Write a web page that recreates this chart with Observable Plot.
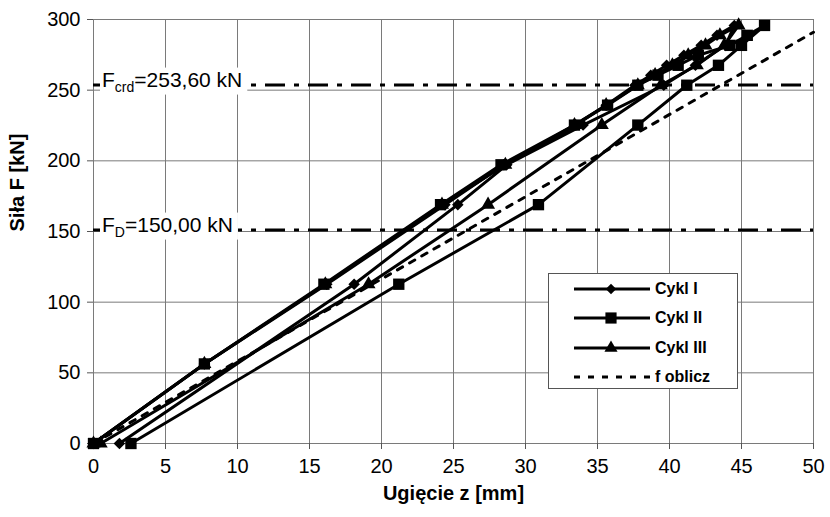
<!DOCTYPE html>
<html>
<head>
<meta charset="utf-8">
<script src="https://cdn.jsdelivr.net/npm/d3@7"></script>
<script src="https://cdn.jsdelivr.net/npm/@observablehq/plot@0.6"></script>
<style>
  html, body { margin: 0; padding: 0; background: #fff; }
  #wrap { position: relative; width: 830px; height: 517px; }
  #legend { position: absolute; left: 548px; top: 273px; width: 190px; height: 116px;
    border: 1px solid #555; background: #fff; box-sizing: border-box;
    font-family: "Liberation Sans", Arial, sans-serif; font-weight: bold; font-size: 16px; }
  .row { position: absolute; left: 23px; height: 20px; display: flex; align-items: center; }
  .row span { margin-left: 3px; }
</style>
</head>
<body>
<div id="wrap"></div>
<script>
// ---- data ----
const xTicks = [0, 5, 10, 15, 20, 25, 30, 35, 40, 45, 50];
const yTicks = [0, 50, 100, 150, 200, 250, 300];

const cyklI_z = [0, 7.7, 16.2, 24.4, 28.5, 33.5, 35.6, 37.6, 38.7, 39.8, 41.0, 42.2, 43.3, 44.5, 43.9, 41.8, 39.6, 34.0, 28.7, 25.3, 18.1, 1.8];
const cyklI_F = [0, 56.3, 112.7, 169, 197.2, 225.3, 239.4, 253.5, 260.6, 267.6, 274.7, 281.7, 288.8, 295.8, 281.7, 267.6, 253.5, 225.3, 197.2, 169, 112.7, 0];

const cyklII_z = [0, 7.7, 16.0, 24.1, 28.3, 33.4, 35.7, 37.8, 39.2, 40.6, 42.0, 44.2, 45.4, 46.6, 45.0, 43.4, 41.2, 37.8, 30.9, 21.2, 2.6];
const cyklII_F = [0, 56.3, 112.7, 169, 197.2, 225.3, 239.4, 253.5, 260.6, 267.6, 274.7, 281.7, 288.8, 295.8, 281.7, 267.6, 253.5, 225.3, 169, 112.7, 0];

const cyklIII_z = [0, 7.7, 16.1, 24.2, 28.6, 33.4, 35.6, 37.8, 39.0, 40.2, 41.3, 42.5, 43.5, 44.8, 43.8, 41.9, 39.4, 35.3, 27.4, 19.1, 0.5];
const cyklIII_F = [0, 56.3, 112.7, 169, 197.2, 225.3, 239.4, 253.5, 260.6, 267.6, 274.7, 281.7, 288.8, 295.8, 281.7, 267.6, 253.5, 225.3, 169, 112.7, 0];

const fCalc_z = [0, 50];
const fCalc_F = [0, 291];

const refValues = [253.6, 151];
const refMain = ["F", "F"];
const refSub = ["crd", "D"];
const refRest = ["=253,60 kN", "=150,00 kN"];

const seriesNames = ["Cykl I", "Cykl II", "Cykl III", "f oblicz"];
const xLabel = "Ugięcie z [mm]";
const yLabel = "Siła F [kN]";

// ---- build tables ----
const toRows = (zs, Fs, s) => zs.map((z, i) => ({z, F: Fs[i], s}));
const rI = toRows(cyklI_z, cyklI_F, seriesNames[0]);
const rII = toRows(cyklII_z, cyklII_F, seriesNames[1]);
const rIII = toRows(cyklIII_z, cyklIII_F, seriesNames[2]);
const rCalc = toRows(fCalc_z, fCalc_F, seriesNames[3]);

const font = "'Liberation Sans', Arial, sans-serif";
const gridStyle = {stroke: "#7a7a7a", strokeOpacity: 1, strokeWidth: 1};

const plot = Plot.plot({
  width: 830, height: 517,
  marginLeft: 93, marginRight: 17, marginTop: 19, marginBottom: 74,
  style: {fontFamily: font, fontSize: "20px", color: "#000", background: "#fff", overflow: "visible"},
  x: {domain: [0, 50]},
  y: {domain: [0, 300]},
  marks: [
    Plot.gridX(xTicks, gridStyle),
    Plot.gridY(yTicks, gridStyle),
    Plot.axisX(xTicks, {tickSize: 6, tickPadding: 9, label: null, stroke: "#555", fontSize: 20}),
    Plot.axisY(yTicks, {tickSize: 6, tickPadding: 7, label: null, stroke: "#555", fontSize: 20}),
    Plot.ruleY(refValues, {stroke: "#000", strokeWidth: 3, strokeDasharray: "20,9,5,9"}),
    Plot.line(rCalc, {x: "z", y: "F", stroke: "#000", strokeWidth: 3, strokeDasharray: "6,8"}),
    Plot.line(rI, {x: "z", y: "F", stroke: "#000", strokeWidth: 3}),
    Plot.line(rIII, {x: "z", y: "F", stroke: "#000", strokeWidth: 3}),
    Plot.line(rII, {x: "z", y: "F", stroke: "#000", strokeWidth: 3}),
    Plot.dot(rI, {x: "z", y: "F", symbol: "diamond2", r: 5.2, fill: "#000", stroke: null}),
    Plot.dot(rIII, {x: "z", y: "F", symbol: "triangle", r: 5.2, fill: "#000", stroke: null}),
    Plot.dot(rII, {x: "z", y: "F", symbol: "square", r: 6.4, fill: "#000", stroke: null}),
    Plot.text([xLabel], {frameAnchor: "bottom", dy: 56, text: d => d, fontWeight: "bold", fontSize: 20, fill: "#000"}),
    Plot.text([yLabel], {frameAnchor: "left", dx: -76, rotate: -90, text: d => d, fontWeight: "bold", fontSize: 20, fill: "#000"})
  ]
});

document.getElementById("wrap").appendChild(plot);

// reference line labels (with subscripts), white background box
const ys = plot.scale("y");
const xs = plot.scale("x");
const svg = d3.select(plot);
refValues.forEach((v, i) => {
  const yPix = ys.apply(v);
  const g = svg.append("g");
  const rect = g.append("rect").attr("fill", "#fff");
  const t = g.append("text")
    .attr("x", xs.apply(0) + 9)
    .attr("y", yPix + 2)
    .attr("text-anchor", "start")
    .attr("font-family", font)
    .attr("font-size", 21)
    .attr("fill", "#000");
  t.append("tspan").text(refMain[i]);
  t.append("tspan").attr("dy", 5).attr("font-size", 14).text(refSub[i]);
  t.append("tspan").attr("dy", -5).text(refRest[i]);
  const bb = t.node().getBBox();
  rect.attr("x", bb.x - 2).attr("y", bb.y).attr("width", bb.width + 7).attr("height", bb.height);
});

// legend
const leg = document.createElement("div");
leg.id = "legend";
const symbols = ["diamond2", "square", "triangle", null];
const symSize = [70, 125, 75, 0];
seriesNames.forEach((name, i) => {
  const row = document.createElement("div");
  row.className = "row";
  row.style.top = (5 + i * 29.4) + "px";
  const s = d3.create("svg").attr("width", 80).attr("height", 20);
  s.append("line").attr("x1", 2).attr("x2", 78).attr("y1", 10).attr("y2", 10)
    .attr("stroke", "#000").attr("stroke-width", 3)
    .attr("stroke-dasharray", symbols[i] ? null : "6,8");
  if (symbols[i]) {
    const sym = {diamond2: d3.symbolDiamond2, square: d3.symbolSquare, triangle: d3.symbolTriangle}[symbols[i]];
    s.append("path").attr("d", d3.symbol(sym, symSize[i])()).attr("transform", "translate(39,10)").attr("fill", "#000");
  }
  row.appendChild(s.node());
  const sp = document.createElement("span");
  sp.textContent = name;
  row.appendChild(sp);
  leg.appendChild(row);
});
document.getElementById("wrap").appendChild(leg);
</script>
</body>
</html>
